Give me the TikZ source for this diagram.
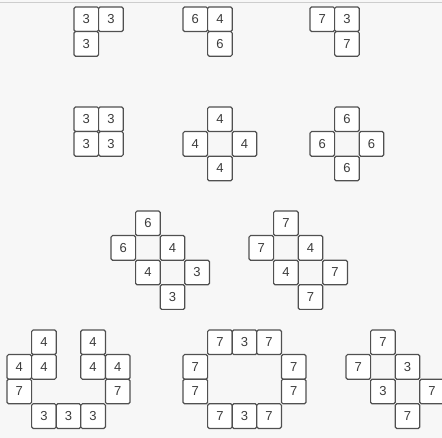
\documentclass[tikz,border=0pt]{standalone}
\usepackage{fontspec}
\setmainfont{Liberation Sans}
\definecolor{bggray}{HTML}{F7F7F7}
\definecolor{rulegray}{HTML}{CDCDCD}
\definecolor{cellgray}{HTML}{505050}
\definecolor{digitgray}{HTML}{3C3C3C}
\newcommand{\cs}{24.6}
% one square of a shape: name, column, row, number
\newcommand{\sq}[4]{\node[cell] (#1) at ({(#2+0.5)*\cs},{(#3+0.5)*\cs}) {#4};}
\tikzset{cell/.style = {draw = cellgray, fill = white, line width = 1.2pt, rounded corners = 1.5pt,
	minimum size = 24.6pt, inner sep = 0pt, outer sep = 0pt, text = digitgray,
	font = \fontsize{13}{13}\selectfont}}
\begin{document}
\begin{tikzpicture}[x = 1pt, y = -1pt]
	\useasboundingbox (0,0) rectangle (442,438);
	\clip (0,0) rectangle (442,438);
	\fill [bggray] (0,0) rectangle (442,438);
	\draw [rulegray, line width = 1pt] (0,3) -- (442,3);
	% first row
	\begin{scope}[shift = {(74,7)}]
	\sq{a1}{0}{0}{3} \sq{a2}{1}{0}{3} \sq{a3}{0}{1}{3}
	\end{scope}
	\begin{scope}[shift = {(183,7)}]
	\sq{b1}{0}{0}{6} \sq{b2}{1}{0}{4} \sq{b3}{1}{1}{6}
	\end{scope}
	\begin{scope}[shift = {(310,7)}]
	\sq{c1}{0}{0}{7} \sq{c2}{1}{0}{3} \sq{c3}{1}{1}{7}
	\end{scope}
	% second row
	\begin{scope}[shift = {(74,107)}]
	\sq{d1}{0}{0}{3} \sq{d2}{1}{0}{3} \sq{d3}{0}{1}{3} \sq{d4}{1}{1}{3}
	\end{scope}
	\begin{scope}[shift = {(183,107)}]
	\sq{e1}{1}{0}{4} \sq{e2}{0}{1}{4} \sq{e3}{2}{1}{4} \sq{e4}{1}{2}{4}
	\end{scope}
	\begin{scope}[shift = {(310,107)}]
	\sq{f1}{1}{0}{6} \sq{f2}{0}{1}{6} \sq{f3}{2}{1}{6} \sq{f4}{1}{2}{6}
	\end{scope}
	% third row
	\begin{scope}[shift = {(111,211)}]
	\sq{g1}{1}{0}{6} \sq{g2}{0}{1}{6} \sq{g3}{2}{1}{4}
	\sq{g4}{1}{2}{4} \sq{g5}{3}{2}{3} \sq{g6}{2}{3}{3}
	\end{scope}
	\begin{scope}[shift = {(249,211)}]
	\sq{h1}{1}{0}{7} \sq{h2}{0}{1}{7} \sq{h3}{2}{1}{4}
	\sq{h4}{1}{2}{4} \sq{h5}{3}{2}{7} \sq{h6}{2}{3}{7}
	\end{scope}
	% fourth row
	\begin{scope}[shift = {(7,330)}]
	\sq{i1}{1}{0}{4} \sq{i2}{3}{0}{4}
	\sq{i3}{0}{1}{4} \sq{i4}{1}{1}{4} \sq{i5}{3}{1}{4} \sq{i6}{4}{1}{4}
	\sq{i7}{0}{2}{7} \sq{i8}{4}{2}{7}
	\sq{i9}{1}{3}{3} \sq{i10}{2}{3}{3} \sq{i11}{3}{3}{3}
	\end{scope}
	\begin{scope}[shift = {(183,330)}]
	\sq{j1}{1}{0}{7} \sq{j2}{2}{0}{3} \sq{j3}{3}{0}{7}
	\sq{j4}{0}{1}{7} \sq{j5}{4}{1}{7} \sq{j6}{0}{2}{7} \sq{j7}{4}{2}{7}
	\sq{j8}{1}{3}{7} \sq{j9}{2}{3}{3} \sq{j10}{3}{3}{7}
	\end{scope}
	\begin{scope}[shift = {(346,330)}]
	\sq{k1}{1}{0}{7} \sq{k2}{0}{1}{7} \sq{k3}{2}{1}{3}
	\sq{k4}{1}{2}{3} \sq{k5}{3}{2}{7} \sq{k6}{2}{3}{7}
	\end{scope}
\end{tikzpicture}
\end{document}
